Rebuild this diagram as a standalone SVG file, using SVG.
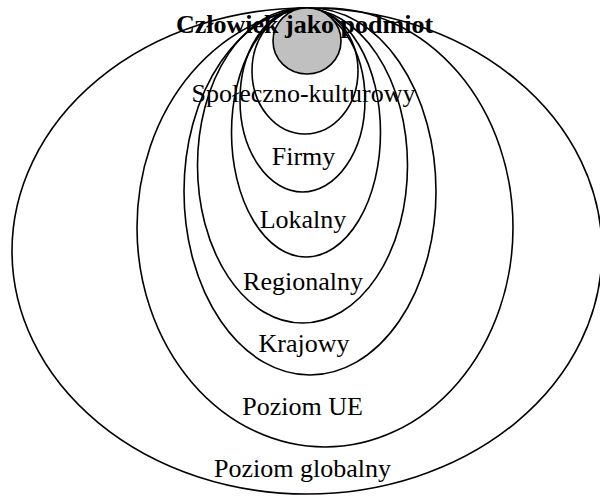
<svg xmlns="http://www.w3.org/2000/svg" width="600" height="497" viewBox="0 0 600 497">
<style>
  .ring { fill: none; stroke: #000; stroke-width: 1.6; }
  .core { fill: #c0c0c0; stroke: #000; stroke-width: 1.6; }
  .lbl { font-family: "Liberation Serif", "Times New Roman", serif; font-size: 26px; fill: #000; text-anchor: middle; }
  .title { font-weight: bold; }
</style>
<rect width="600" height="497" fill="#fff"/>
<g id="globalny">
  <ellipse class="ring" cx="307" cy="251" rx="295" ry="243"/>
</g>
<g id="ue">
  <ellipse class="ring" cx="325" cy="227.5" rx="188" ry="219.5"/>
</g>
<g id="krajowy">
  <ellipse class="ring" cx="310" cy="191.5" rx="126" ry="183.5"/>
</g>
<g id="regionalny">
  <ellipse class="ring" cx="302.5" cy="165.5" rx="105" ry="157.5"/>
</g>
<g id="lokalny">
  <ellipse class="ring" cx="306" cy="132.5" rx="74.5" ry="124.5"/>
</g>
<g id="firmy">
  <ellipse class="ring" cx="302.5" cy="100" rx="62.5" ry="92"/>
</g>
<g id="spoleczno">
  <ellipse class="ring" cx="305" cy="71" rx="53" ry="63"/>
</g>
<g id="czlowiek">
  <ellipse class="core" cx="307" cy="41" rx="34" ry="33"/>
</g>
<g id="labels">
  <text class="lbl title" x="304.5" y="33">Człowiek jako podmiot</text>
  <text class="lbl" x="303.5" y="102">Społeczno-kulturowy</text>
  <text class="lbl" x="303.5" y="165">Firmy</text>
  <text class="lbl" x="303" y="228">Lokalny</text>
  <text class="lbl" x="303" y="290">Regionalny</text>
  <text class="lbl" x="304" y="352">Krajowy</text>
  <text class="lbl" x="302.5" y="415">Poziom UE</text>
  <text class="lbl" x="302.5" y="477">Poziom globalny</text>
</g>
</svg>
